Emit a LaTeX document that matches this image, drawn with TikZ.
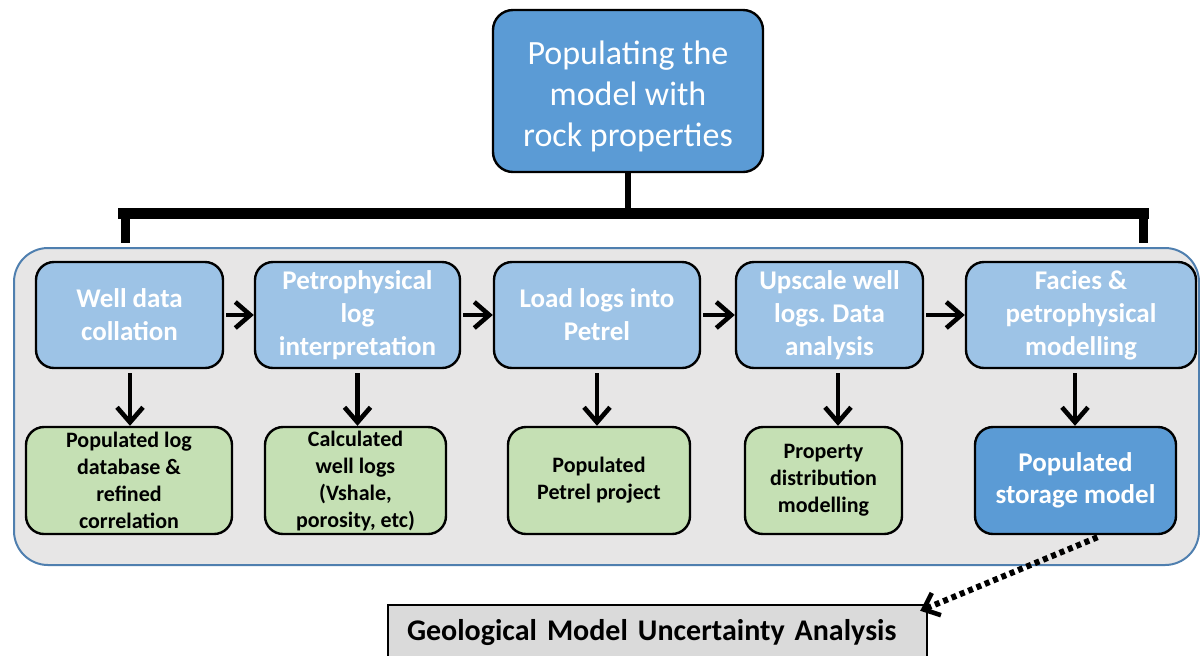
\documentclass[tikz,border=0pt]{standalone}
\usepackage{fontspec}
\setmainfont{Carlito}
\usetikzlibrary{arrows.meta,calc}
\definecolor{titleblue}{HTML}{5B9BD5}
\definecolor{procblue}{HTML}{9DC3E6}
\definecolor{resgreen}{HTML}{C5E0B4}
\definecolor{panelgray}{HTML}{E7E6E6}
\definecolor{panelborder}{HTML}{4F7FAF}
\definecolor{boxgray}{HTML}{DADADA}
\frenchspacing
\begin{document}
\begin{tikzpicture}[x=0.5pt,y=-0.5pt,
  box/.style={draw=black, line width=1.2pt, rounded corners=9pt, inner sep=0pt, align=center},
  titlebox/.style={box, fill=titleblue, text=white, rounded corners=10pt, minimum width=135pt, minimum height=81pt, font=\fontsize{17}{20.5}\selectfont},
  procbox/.style={box, fill=procblue, text=white, minimum height=53pt, font=\fontsize{13.5}{16.5}\selectfont\bfseries},
  resbox/.style={box, fill=resgreen, text=black, minimum height=53.5pt, font=\fontsize{11}{13.5}\selectfont\bfseries},
  finalbox/.style={box, fill=titleblue, text=white, minimum height=53.5pt, font=\fontsize{13.5}{16}\selectfont\bfseries},
  flow/.style={line width=2.3pt, -{Straight Barb[length=7.5pt,width=13pt]}},
  bracket/.style={line width=4.5pt, line cap=butt},
  dotflow/.style={line width=3pt, dash pattern=on 2.5pt off 2pt, -{Straight Barb[length=7pt,width=12pt,line width=2.3pt]}}
]
\useasboundingbox (0,0) rectangle (1200,655);
\clip (0,0) rectangle (1200,655);

% container panel
\draw[fill=panelgray, draw=panelborder, line width=1pt, rounded corners=17pt] (14,248) rectangle (1199,565);

% title
\node[titlebox] (top) at (628,91) {\rule{0pt}{17pt}Populating the\\model with\\rock properties};

% bracket
\coordinate (barl) at (118,213);
\coordinate (barr) at (1149,213);
\coordinate (legl) at (125,243);
\coordinate (legr) at (1143,243);
\draw[line width=3pt] (top.south) -- (top.south |- barl);
\draw[line width=5.5pt] (barl) -- (barr);
\draw[bracket] (legl |- barl) -- (legl);
\draw[bracket] (legr |- barr) -- (legr);

% process boxes
\node[procbox, minimum width=93.5pt] (b1) at (129.5,315) {Well data\\collation};
\node[procbox, minimum width=102.5pt] (b2) at (357.5,315) {Petrophysical\\log\\interpretation};
\node[procbox, minimum width=103pt] (b3) at (597,315) {Load logs into\\Petrel};
\node[procbox, minimum width=93.5pt] (b4) at (829.5,315) {Upscale well\\logs. Data\\analysis};
\node[procbox, minimum width=115pt] (b5) at (1081,315) {Facies \&\\petrophysical\\modelling};

% result boxes
\node[resbox, minimum width=103pt] (g1) at (129,480.5) {Populated log\\database \&\\refined\\correlation};
\node[resbox, minimum width=90.5pt] (g2) at (355.5,480.5) {Calculated\\well logs\\(Vshale,\\porosity, etc)};
\node[resbox, minimum width=91pt] (g3) at (599,480.5) {Populated\\Petrel project};
\node[resbox, minimum width=78.5pt] (g4) at (823.5,480.5) {Property\\distribution\\modelling};
\node[finalbox, minimum width=100.5pt] (g5) at (1075.5,480.5) {Populated\\storage model};

% horizontal arrows
\draw[flow, shorten <=1pt] (b1.east) -- (b2.west);
\draw[flow, shorten <=1pt] (b2.east) -- (b3.west);
\draw[flow, shorten <=1pt] (b3.east) -- (b4.west);
\draw[flow, shorten <=1pt] (b4.east) -- (b5.west);

% vertical arrows
\draw[flow, shorten <=2pt] ([xshift=0.25pt]b1.south) -- ([xshift=0.25pt]b1.south |- g1.north);
\draw[flow, shorten <=2pt] (b2.south) -- (b2.south |- g2.north);
\draw[flow, shorten <=2pt] (b3.south) -- (b3.south |- g3.north);
\draw[flow, shorten <=2pt] ([xshift=4.25pt]b4.south) -- ([xshift=4.25pt]b4.south |- g4.north);
\draw[flow, shorten <=2pt] ([xshift=-3pt]b5.south) -- ([xshift=-3pt]b5.south |- g5.north);

% bottom box
\node[draw=black, line width=1.2pt, fill=boxgray, minimum width=269.5pt, minimum height=28pt,
      text width=250.5pt, inner xsep=9.5pt, inner ysep=0pt, align=left,
      font=\fontsize{15}{18}\selectfont\bfseries] (unc) at (657.5,633) {Geological Model Uncertainty Analysis};

% dotted arrow
\coordinate (dstart) at ([xshift=11pt,yshift=-1pt]g5.south);
\coordinate (dend) at ([xshift=-4pt,yshift=-3.5pt]unc.north east);
\draw[dotflow] (dstart) -- (dend);
\end{tikzpicture}
\end{document}
